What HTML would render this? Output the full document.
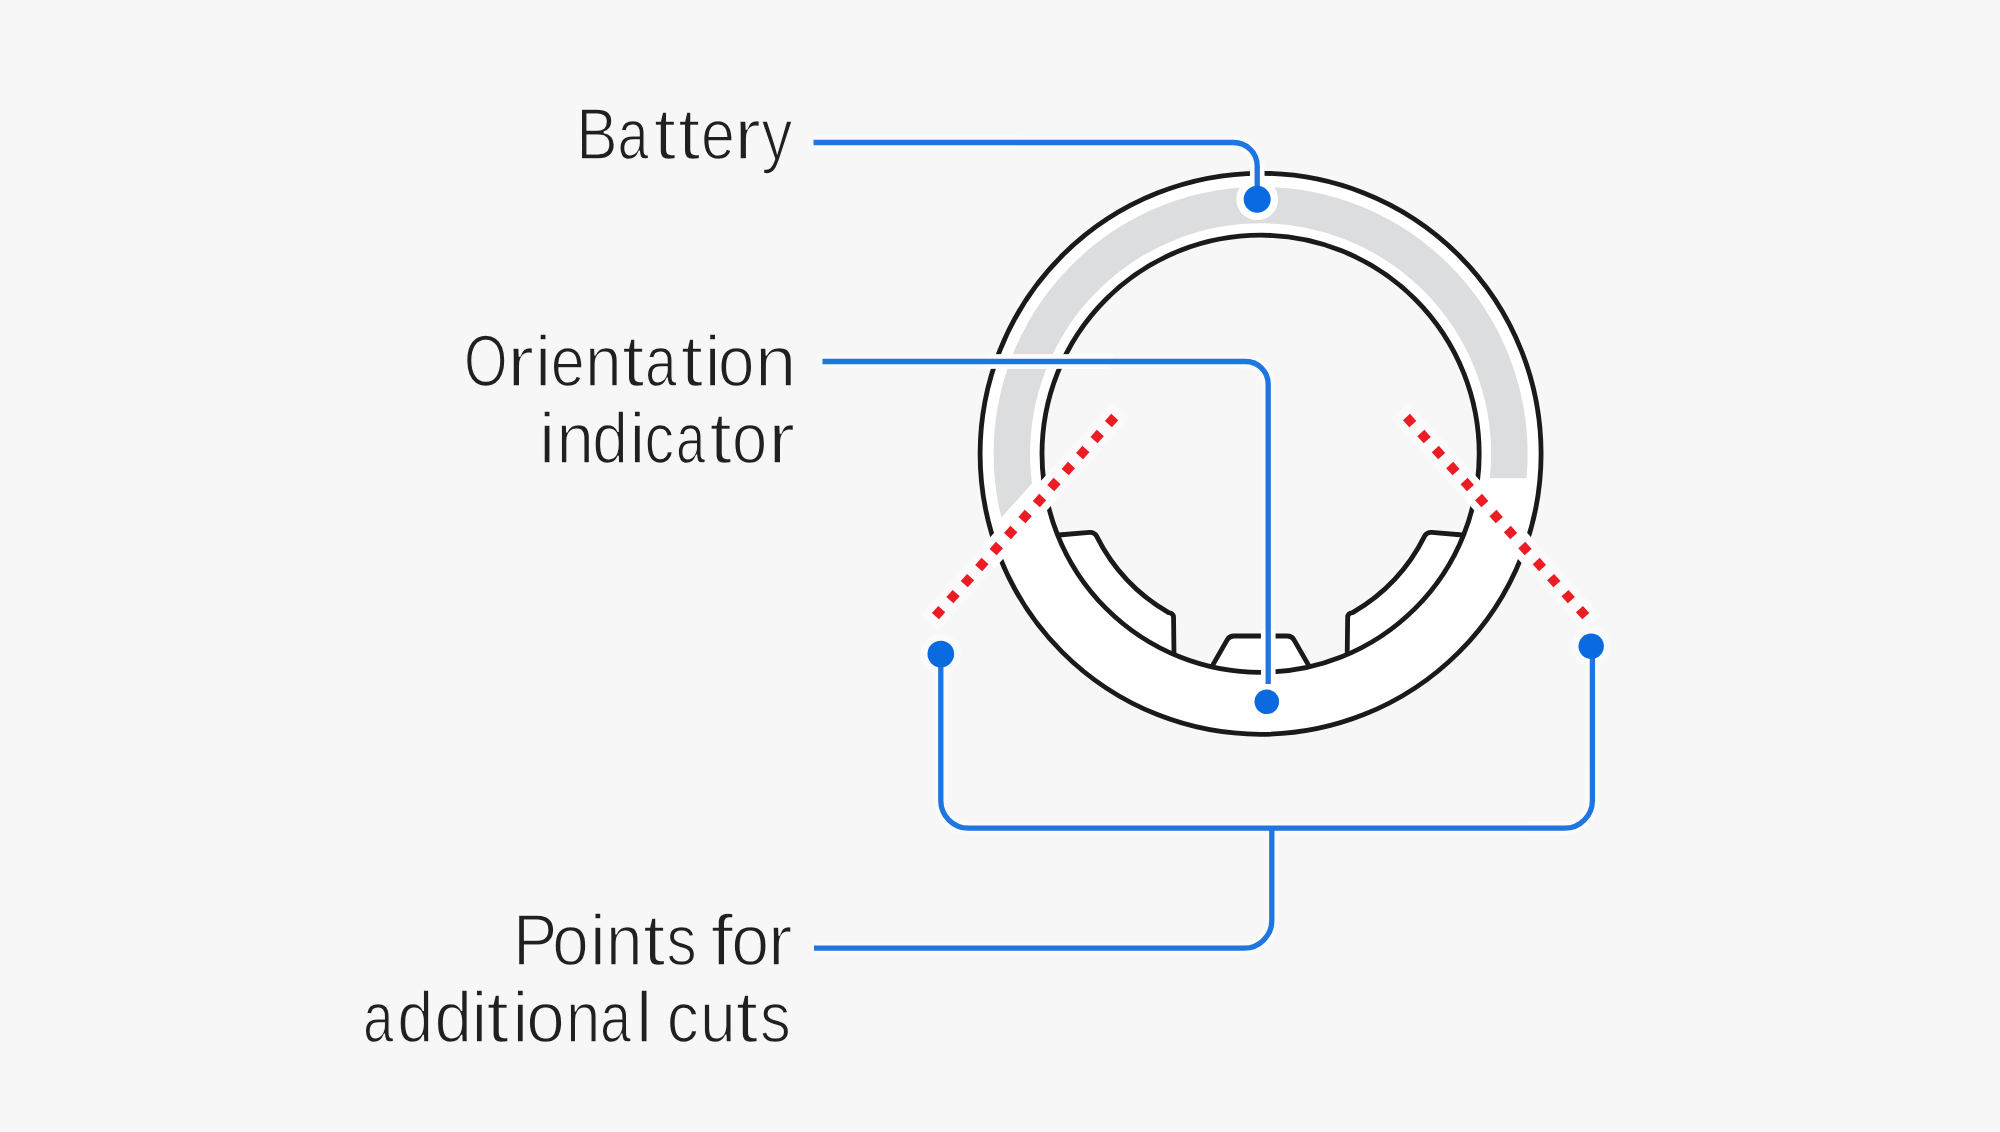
<!DOCTYPE html>
<html><head><meta charset="utf-8"><style>
html,body{margin:0;padding:0;background:#f7f7f7;width:2000px;height:1132px;overflow:hidden}
svg{position:absolute;left:0;top:0;display:block}
text{font-family:"Liberation Sans",sans-serif;fill:#202020;stroke:#f7f7f7;stroke-width:1.6px}
</style></head><body>
<svg width="2000" height="1132" viewBox="0 0 2000 1132">
<defs>
<clipPath id="gc"><path d="M744.79,802.41 L1072.70,438.30 L1260.60,478.2 L1800,478.2 L1800,-10 L600,-10 L600,802.41 Z"/></clipPath>
<clipPath id="ab"><path clip-rule="evenodd" d="M970.60,453.80 A290,290 0 1 0 1550.60,453.80 A290,290 0 1 0 970.60,453.80 Z M1084.60,453.80 A176,176 0 1 1 1436.60,453.80 A176,176 0 1 1 1084.60,453.80 Z"/></clipPath>
<clipPath id="ar"><path clip-rule="evenodd" d="M970.60,453.80 A290,290 0 1 0 1550.60,453.80 A290,290 0 1 0 970.60,453.80 Z M1050.60,453.80 A210,210 0 1 1 1470.60,453.80 A210,210 0 1 1 1050.60,453.80 Z"/></clipPath>
</defs>
<rect width="2000" height="1132" fill="#f7f7f7"/>
<circle cx="1260.6" cy="453.8" r="249.55" fill="none" stroke="#fff" stroke-width="61.90"/>
<circle cx="1260.6" cy="453.8" r="248.75" fill="none" stroke="#dcdddf" stroke-width="36.5" clip-path="url(#gc)"/>
<path d="M1058.50,535.00 L1089.52,532.38 Q1094.00,532.00 1096.45,535.82 A183.5,183.5 0 0 0 1168.60,612.57 Q1173.50,613.00 1173.55,617.50 L1174.00,654.51 A218.6,218.6 0 0 1 1058.50,535.00 Z" fill="#fff"/>
<path d="M1462.70,535.00 L1431.68,532.38 Q1427.20,532.00 1424.75,535.82 A183.5,183.5 0 0 1 1352.60,612.57 Q1347.70,613.00 1347.65,617.50 L1347.20,654.51 A218.6,218.6 0 0 0 1462.70,535.00 Z" fill="#fff"/>
<path d="M1211.70,666.86 L1227.16,639.90 Q1229.40,636.00 1233.90,636.00 L1287.30,636.00 Q1291.80,636.00 1294.04,639.90 L1309.50,666.86 A218.6,218.6 0 0 1 1211.70,666.86 Z" fill="#fff"/>
<g fill="none" stroke="#1a1a1a" stroke-width="4.8" stroke-linejoin="round">
<circle cx="1260.6" cy="453.8" r="280.5"/>
<circle cx="1260.6" cy="453.8" r="218.6"/>
<path d="M1058.50,535.00 L1089.52,532.38 Q1094.00,532.00 1096.45,535.82 A183.5,183.5 0 0 0 1168.60,612.57 Q1173.50,613.00 1173.55,617.50 L1174.00,654.51"/>
<path d="M1462.70,535.00 L1431.68,532.38 Q1427.20,532.00 1424.75,535.82 A183.5,183.5 0 0 1 1352.60,612.57 Q1347.70,613.00 1347.65,617.50 L1347.20,654.51"/>
<path d="M1211.70,666.86 L1227.16,639.90 Q1229.40,636.00 1233.90,636.00 L1287.30,636.00 Q1291.80,636.00 1294.04,639.90 L1309.50,666.86"/>
</g>
<g opacity="0.45">
<g fill="none" stroke="#fff" stroke-width="24"><path d="M929.23,623.00 L1120.97,410.10"/><path d="M1591.97,623.00 L1400.23,410.10"/></g>
<g fill="none" stroke="#fff" stroke-width="14.5"><path d="M813.5,142.5 L1233.7,142.5 A23.5,23.5 0 0 1 1257.2,166 L1257.2,199"/><path d="M822.5,361.5 L1245.7,361.5 A22.5,22.5 0 0 1 1268.2,384 L1268.2,684"/><path d="M814,948.2 L1244,948.2 A27.8,27.8 0 0 0 1271.8,920.4 L1271.8,828.2"/><path d="M940.8,654 L940.8,800.4 A27.8,27.8 0 0 0 968.6,828.2 L1564.6,828.2 A27.8,27.8 0 0 0 1592.4,800.4 L1592.4,646.2"/></g>
<g fill="#fff"><circle cx="1257.2" cy="199.2" r="20.8"/><circle cx="1266.8" cy="701.8" r="19.6"/><circle cx="940.8" cy="654" r="20.6"/><circle cx="1591.2" cy="646.2" r="20.0"/></g>
</g>
<g fill="none" stroke="#fff" stroke-width="24" clip-path="url(#ar)"><path d="M929.23,623.00 L1120.97,410.10"/><path d="M1591.97,623.00 L1400.23,410.10"/></g>
<g clip-path="url(#ab)">
<g fill="none" stroke="#fff" stroke-width="14.5"><path d="M813.5,142.5 L1233.7,142.5 A23.5,23.5 0 0 1 1257.2,166 L1257.2,199"/><path d="M822.5,361.5 L1245.7,361.5 A22.5,22.5 0 0 1 1268.2,384 L1268.2,684"/><path d="M814,948.2 L1244,948.2 A27.8,27.8 0 0 0 1271.8,920.4 L1271.8,828.2"/><path d="M940.8,654 L940.8,800.4 A27.8,27.8 0 0 0 968.6,828.2 L1564.6,828.2 A27.8,27.8 0 0 0 1592.4,800.4 L1592.4,646.2"/></g>
<g fill="#fff"><circle cx="1257.2" cy="199.2" r="20.8"/><circle cx="1266.8" cy="701.8" r="19.6"/><circle cx="940.8" cy="654" r="20.6"/><circle cx="1591.2" cy="646.2" r="20.0"/></g>
</g>
<g fill="none" stroke="#ec1c24" stroke-width="9.5" stroke-dasharray="9.50 12.04">
<path d="M935.42,616.13 L1114.78,416.97"/><path d="M1585.78,616.13 L1406.42,416.97"/>
</g>
<g fill="none" stroke="#1f76e0" stroke-width="5.3"><path d="M813.5,142.5 L1233.7,142.5 A23.5,23.5 0 0 1 1257.2,166 L1257.2,199"/><path d="M822.5,361.5 L1245.7,361.5 A22.5,22.5 0 0 1 1268.2,384 L1268.2,684"/><path d="M814,948.2 L1244,948.2 A27.8,27.8 0 0 0 1271.8,920.4 L1271.8,828.2"/><path d="M940.8,654 L940.8,800.4 A27.8,27.8 0 0 0 968.6,828.2 L1564.6,828.2 A27.8,27.8 0 0 0 1592.4,800.4 L1592.4,646.2"/></g>
<g fill="#0a6ae0">
<circle cx="1257.2" cy="199.2" r="13.5"/>
<circle cx="1266.8" cy="701.8" r="12.3"/>
<circle cx="940.8" cy="654" r="13.3"/>
<circle cx="1591.2" cy="646.2" r="12.7"/>
</g>
<text transform="matrix(0.8514,0,0,1,576.34,159.1)" font-size="73">B</text>
<text transform="matrix(0.7639,0,0,1,617.54,159.1)" font-size="73">a</text>
<text transform="matrix(1.1000,0,0,1,653.75,159.1)" font-size="73">t</text>
<text transform="matrix(1.1000,0,0,1,677.95,159.1)" font-size="73">t</text>
<text transform="matrix(0.8333,0,0,1,701.07,159.1)" font-size="73">e</text>
<text transform="matrix(1.0944,0,0,1,734.33,159.1)" font-size="73">r</text>
<text transform="matrix(0.8441,0,0,1,761.46,159.1)" font-size="73">y</text>
<text transform="matrix(0.7673,0,0,1,463.93,386.2)" font-size="73">O</text>
<text transform="matrix(1.1000,0,0,1,507.15,386.2)" font-size="73">r</text>
<text transform="matrix(1.0000,0,0,1,535.10,386.2)" font-size="73">i</text>
<text transform="matrix(0.8364,0,0,1,550.65,386.2)" font-size="73">e</text>
<text transform="matrix(0.9033,0,0,1,584.98,386.2)" font-size="73">n</text>
<text transform="matrix(1.1000,0,0,1,622.05,386.2)" font-size="73">t</text>
<text transform="matrix(0.7778,0,0,1,644.89,386.2)" font-size="73">a</text>
<text transform="matrix(1.1000,0,0,1,680.65,386.2)" font-size="73">t</text>
<text transform="matrix(1.0000,0,0,1,704.50,386.2)" font-size="73">i</text>
<text transform="matrix(0.9000,0,0,1,717.90,386.2)" font-size="73">o</text>
<text transform="matrix(1.0200,0,0,1,754.90,386.2)" font-size="73">n</text>
<text transform="matrix(1.0000,0,0,1,538.95,462.5)" font-size="73">i</text>
<text transform="matrix(0.9233,0,0,1,556.38,462.5)" font-size="73">n</text>
<text transform="matrix(0.8806,0,0,1,592.28,462.5)" font-size="73">d</text>
<text transform="matrix(1.0000,0,0,1,629.30,462.5)" font-size="73">i</text>
<text transform="matrix(0.8133,0,0,1,644.55,462.5)" font-size="73">c</text>
<text transform="matrix(0.7200,0,0,1,675.91,462.5)" font-size="73">a</text>
<text transform="matrix(1.1000,0,0,1,709.55,462.5)" font-size="73">t</text>
<text transform="matrix(0.8697,0,0,1,732.12,462.5)" font-size="73">o</text>
<text transform="matrix(1.1000,0,0,1,768.15,462.5)" font-size="73">r</text>
<text transform="matrix(0.9108,0,0,1,513.02,965.0)" font-size="73">P</text>
<text transform="matrix(0.8970,0,0,1,552.21,965.0)" font-size="73">o</text>
<text transform="matrix(1.0000,0,0,1,589.75,965.0)" font-size="73">i</text>
<text transform="matrix(0.9000,0,0,1,606.00,965.0)" font-size="73">n</text>
<text transform="matrix(1.1000,0,0,1,643.10,965.0)" font-size="73">t</text>
<text transform="matrix(0.8267,0,0,1,666.62,965.0)" font-size="73">s</text>
<text transform="matrix(1.1000,0,0,1,710.70,965.0)" font-size="73">f</text>
<text transform="matrix(0.9333,0,0,1,731.37,965.0)" font-size="73">o</text>
<text transform="matrix(1.0000,0,0,1,768.00,965.0)" font-size="73">r</text>
<text transform="matrix(0.7500,0,0,1,363.00,1041.6)" font-size="73">a</text>
<text transform="matrix(0.8871,0,0,1,397.15,1041.6)" font-size="73">d</text>
<text transform="matrix(0.9226,0,0,1,434.41,1041.6)" font-size="73">d</text>
<text transform="matrix(1.0000,0,0,1,471.30,1041.6)" font-size="73">i</text>
<text transform="matrix(1.1000,0,0,1,486.50,1041.6)" font-size="73">t</text>
<text transform="matrix(1.0000,0,0,1,512.30,1041.6)" font-size="73">i</text>
<text transform="matrix(0.9485,0,0,1,526.21,1041.6)" font-size="73">o</text>
<text transform="matrix(0.8433,0,0,1,565.88,1041.6)" font-size="73">n</text>
<text transform="matrix(0.7639,0,0,1,600.04,1041.6)" font-size="73">a</text>
<text transform="matrix(1.0000,0,0,1,636.00,1041.6)" font-size="73">l</text>
<text transform="matrix(0.8800,0,0,1,666.68,1041.6)" font-size="73">c</text>
<text transform="matrix(0.8800,0,0,1,699.90,1041.6)" font-size="73">u</text>
<text transform="matrix(1.1000,0,0,1,735.65,1041.6)" font-size="73">t</text>
<text transform="matrix(0.8433,0,0,1,760.07,1041.6)" font-size="73">s</text>
</svg>
</body></html>
